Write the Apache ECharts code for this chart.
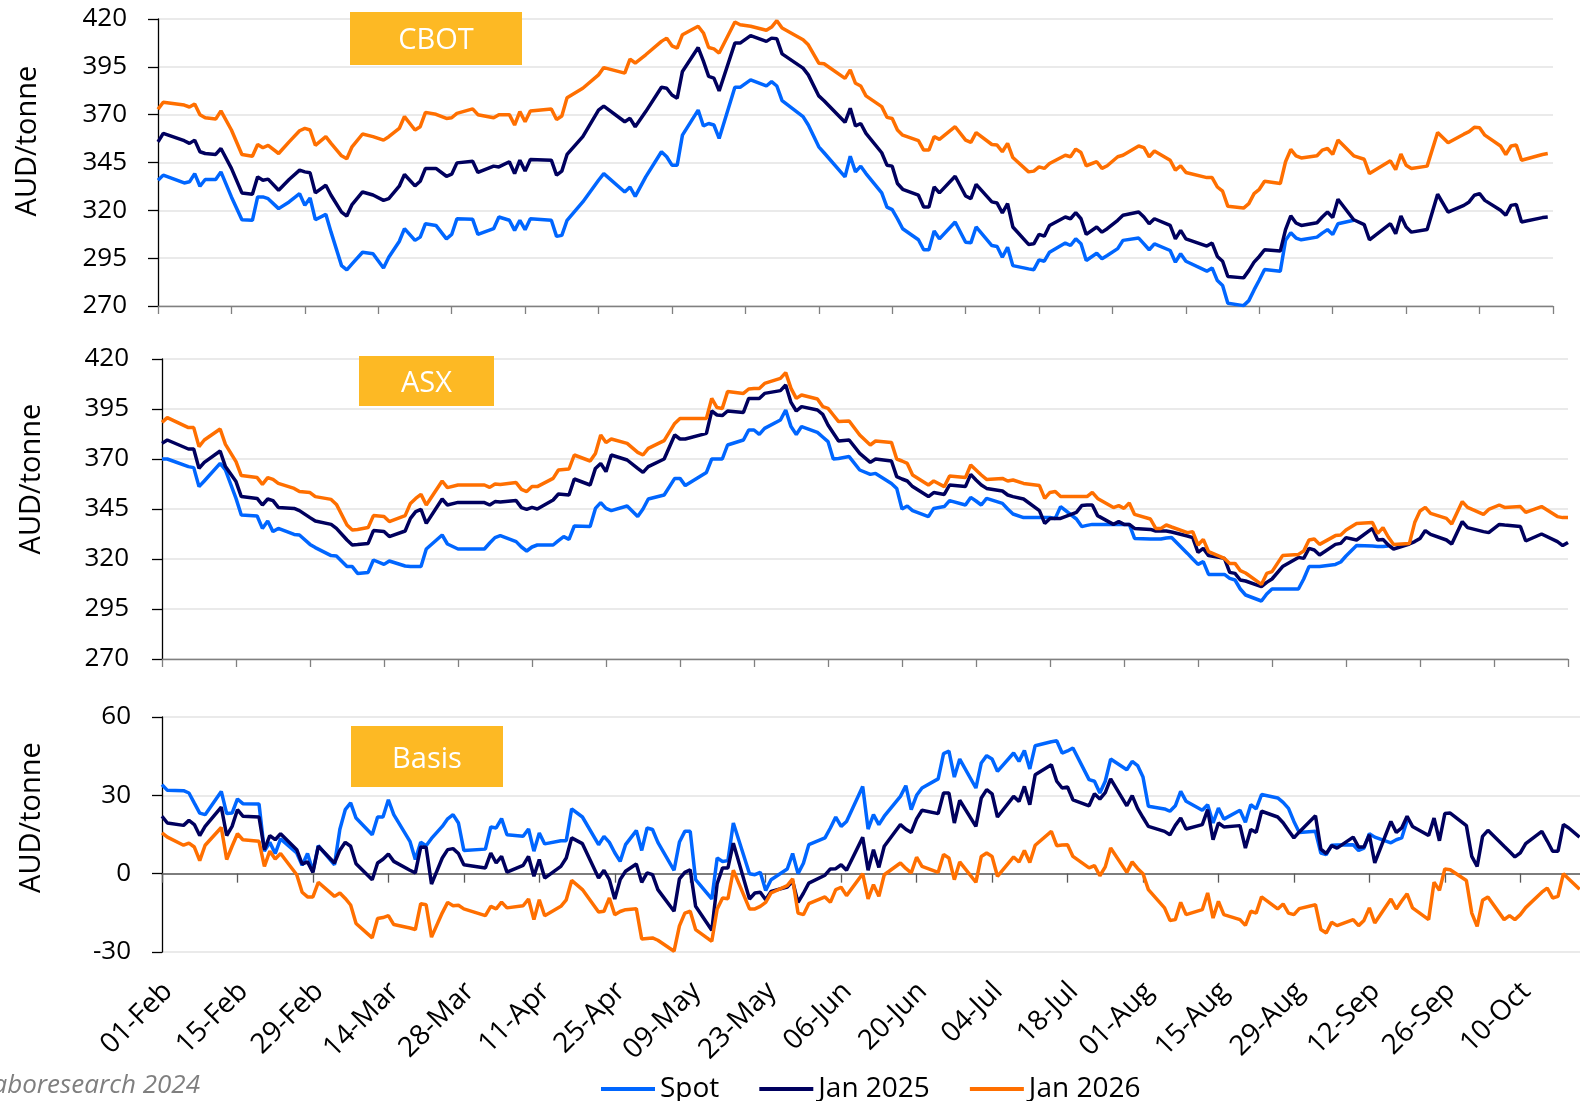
<!DOCTYPE html>
<html>
<head>
<meta charset="utf-8">
<script src="https://cdn.jsdelivr.net/npm/echarts@6/dist/echarts.min.js"></script>
<style>
html,body{margin:0;padding:0;background:#fff;}
#chart{width:1580px;height:1101px;}
</style>
</head>
<body>
<div id="chart"></div>
<script>
// x tick labels (every 14 days from 01-Feb-2024)
const xTickLabels = ['01-Feb','15-Feb','29-Feb','14-Mar','28-Mar','11-Apr','25-Apr','09-May','23-May','06-Jun','20-Jun','04-Jul','18-Jul','01-Aug','15-Aug','29-Aug','12-Sep','26-Sep','10-Oct'];
const seriesNames = ['Spot','Jan 2025','Jan 2026'];

// ---------- CBOT (AUD/tonne); days = days since 01-Feb-2024 ----------
const cbotDays = [
0,1,5,6,7,8,9,11,12,14,
16,18,19,20,21,23,25,27,28,29,
30,32,33,35,36,37,39,41,43,44,
46,47,49,50,51,53,55,56,57,60,
61,64,65,67,68,69,70,71,75,76,
77,78,81,84,85,89,90,91,93,96,
97,98,99,100,103,104,105,106,107,110,
111,113,116,117,118,119,123,124,126,127,
131,132,133,134,135,138,139,140,141,142,
145,146,147,148,149,152,154,155,156,159,
160,161,162,163,166,167,168,169,170,173,
174,175,176,177,179,180,181,183,184,187,
188,189,190,193,194,195,196,200,201,202,
203,204,207,208,209,210,211,214,215,216,
217,218,221,222,223,224,225,228,230,231,
235,236,237,238,239,242,244,246,249,250,
251,252,253,256,257,258,259,260,264,265];
const cbotSpot = [
335.7,338.4,334.3,334.9,339.2,332.6,336.1,336.1,340.1,327.0,
315.1,314.8,327.0,327.0,326.1,320.9,324.4,328.7,322.6,326.5,
315.1,317.9,308.6,291.1,288.9,292.0,298.1,297.3,289.9,295.5,
303.7,310.4,304.3,306.0,313.0,312.1,305.1,307.4,315.6,315.3,
307.4,310.4,316.5,314.8,309.5,314.8,309.9,315.6,314.8,306.4,
306.9,314.8,324.4,335.7,339.2,329.6,332.2,327.3,337.5,350.6,
348.0,343.6,343.6,359.3,372.4,364.1,365.4,364.6,357.6,384.3,
384.3,388.2,385.0,387.3,385.0,377.3,369.0,364.6,353.2,350.1,
337.5,348.3,340.1,343.1,339.2,329.1,321.7,320.4,315.6,310.4,
304.6,299.4,299.4,309.2,305.1,313.9,303.3,303.0,311.3,301.6,
301.1,295.5,300.7,291.1,289.4,289.0,294.1,293.4,298.1,302.9,
301.6,305.1,302.5,293.8,297.6,294.7,296.4,300.0,304.3,305.5,
302.5,299.4,302.5,299.0,292.9,297.3,293.4,288.2,289.9,283.3,
280.7,271.4,270.2,272.8,278.4,283.6,289.1,288.2,304.3,308.3,
305.5,304.6,306.0,308.1,309.9,307.4,313.0,314.8,null,null,
null,null,null,null,null,null,null,null,null,null,
null,null,null,null,null,null,null,null,null,null];
const cbotJan25 = [
355.8,360.2,356.4,355.0,356.7,350.6,349.7,349.2,352.3,341.9,
329.1,328.4,337.5,335.7,336.3,330.5,336.1,341.0,340.1,339.6,
329.1,333.1,327.9,319.1,317.0,323.0,329.6,328.0,325.2,326.1,
332.6,338.7,332.8,335.2,341.9,341.9,337.8,338.9,344.8,345.7,
339.8,343.1,342.7,345.4,339.2,346.2,340.5,346.6,346.2,338.4,
340.5,349.2,358.5,372.4,374.5,366.3,368.1,363.7,371.6,384.3,
383.8,380.3,378.6,392.6,405.1,398.0,390.0,389.1,382.4,407.4,
407.4,411.3,408.3,410.0,409.7,401.8,394.3,390.8,379.8,377.3,
366.0,373.3,364.1,365.4,360.2,350.1,343.6,343.1,334.0,331.0,
327.9,321.7,321.7,332.2,329.1,337.8,327.5,326.1,333.6,324.4,
323.8,318.6,323.5,311.3,302.2,302.5,307.4,306.5,312.1,316.5,
315.6,318.8,315.6,307.4,311.3,308.6,310.4,314.8,317.4,319.1,
316.5,313.0,315.6,312.1,305.1,309.5,305.1,301.3,302.9,295.9,
293.4,285.4,284.7,288.5,292.9,295.9,299.4,298.7,309.9,317.1,
313.4,312.1,313.5,316.5,319.1,316.2,325.8,315.1,312.5,304.6,
313.0,307.8,317.1,311.3,308.6,310.0,328.4,319.1,322.6,324.4,
327.9,328.7,325.2,320.0,317.4,322.6,323.1,313.9,316.2,316.5];
const cbotJan26 = [
372.8,376.5,375.0,374.0,375.6,370.0,368.4,367.7,372.0,362.0,
349.2,348.3,354.4,352.7,353.9,349.7,355.8,361.6,362.8,362.0,
354.0,358.5,355.0,348.5,347.0,353.2,359.9,358.5,356.7,358.5,
362.8,369.0,362.0,363.7,371.2,370.2,368.0,368.4,370.7,373.0,
370.0,368.4,370.0,370.0,364.6,371.6,366.3,371.9,373.0,367.5,
369.3,378.9,383.8,390.8,394.6,391.7,399.0,397.0,401.3,408.3,
410.0,406.0,404.8,411.8,416.2,412.7,405.1,404.4,402.2,418.4,
417.0,416.2,414.1,415.8,419.1,415.3,409.2,406.5,396.9,396.6,
389.0,393.4,386.4,385.0,379.8,374.2,368.6,368.0,362.0,359.3,
356.4,351.5,351.5,358.5,357.1,363.7,356.7,355.5,360.6,354.4,
354.1,350.6,355.0,347.6,340.1,340.5,342.7,341.9,344.5,348.8,
348.0,352.0,350.2,343.3,345.4,341.9,343.3,348.0,348.8,353.6,
352.8,348.0,351.0,346.2,341.0,343.3,339.8,337.1,337.1,332.2,
330.0,322.1,321.2,323.5,328.7,331.0,335.2,334.0,345.4,351.8,
348.5,347.4,348.5,351.5,352.3,349.2,356.7,348.5,346.7,339.2,
345.9,341.3,349.4,343.6,341.9,343.1,360.7,355.3,359.8,361.1,
363.4,363.2,359.3,353.6,349.2,353.6,354.1,346.2,349.2,349.7];

// ---------- ASX (AUD/tonne) ----------
const asxDays = [
0,1,5,6,7,8,11,12,14,15,
18,19,20,21,22,25,26,28,29,32,
33,35,36,37,39,40,42,43,46,47,
48,49,50,53,54,56,61,62,63,64,
67,68,69,70,71,74,75,76,77,78,
81,82,83,84,85,88,90,91,92,95,
97,98,99,103,104,105,106,107,110,111,
112,113,114,117,118,119,120,121,124,125,
126,127,128,130,132,134,135,138,139,140,
141,142,145,146,148,149,152,153,154,155,
156,159,160,161,163,166,167,168,169,170,
173,174,175,176,177,180,181,182,183,184,
187,188,189,190,191,194,195,196,197,198,
201,202,203,204,205,208,209,210,212,215,
216,217,218,219,222,223,224,226,229,230,
231,232,233,236,237,238,239,240,243,244,
246,247,250,251,253,254,257,258,261,264,
265,266];
const asxSpot = [
370.0,370.0,366.2,365.7,356.2,359.0,367.8,364.5,350.3,342.0,
341.5,335.3,339.0,333.7,335.3,332.3,332.0,327.3,325.7,321.7,
321.5,316.2,316.2,312.8,313.3,319.5,317.3,319.0,316.5,316.2,
316.2,316.2,325.0,332.0,327.5,325.0,325.0,328.0,330.7,331.7,
328.7,326.0,324.0,326.0,327.0,327.0,329.2,331.2,329.8,336.5,
336.2,345.3,348.2,345.3,344.2,346.5,341.2,345.0,350.0,352.0,
360.3,360.3,356.7,363.3,370.0,370.0,370.0,377.0,379.5,384.5,
384.5,382.3,385.3,389.5,394.5,386.2,382.3,386.2,383.3,381.0,
378.7,370.0,370.3,371.2,364.5,362.3,362.8,357.8,355.3,345.0,
346.5,344.2,341.2,345.3,346.2,349.2,347.0,350.8,349.0,347.0,
350.3,347.8,345.0,342.5,340.7,340.7,340.7,340.7,340.3,346.2,
340.0,336.2,336.8,337.3,337.3,337.3,337.3,337.3,337.3,330.3,
330.0,330.0,330.0,330.5,330.8,322.8,320.0,317.3,318.7,312.3,
312.3,310.3,309.5,305.0,302.0,299.0,302.5,305.0,305.0,305.0,
310.0,316.2,316.2,316.2,317.3,318.5,321.5,326.7,326.5,326.3,
326.2,326.5,null,null,null,null,null,null,null,null,
null,null,null,null,null,null,null,null,null,null,
null,null];
const asxJan25 = [
377.8,379.5,375.0,375.0,365.3,368.3,374.0,366.2,358.7,351.2,
350.3,347.0,350.0,349.2,345.8,345.3,344.2,340.7,339.0,337.3,
335.3,329.5,327.0,327.2,327.8,334.2,333.7,331.2,334.0,340.3,
343.7,344.8,337.8,350.0,347.0,348.3,348.2,347.0,348.7,348.5,
349.2,345.7,344.8,345.8,345.0,349.5,352.5,352.3,352.0,360.0,
357.0,365.3,367.8,363.7,372.0,369.5,365.3,363.3,366.2,370.0,
382.0,380.0,380.0,382.8,394.0,392.0,391.7,394.0,393.3,400.3,
400.3,400.3,402.8,404.2,407.0,398.3,394.0,396.2,394.5,392.3,
387.0,383.0,379.0,379.5,372.8,368.3,370.0,369.0,361.2,360.0,
359.0,356.2,351.2,353.2,352.3,357.0,356.2,362.3,359.5,357.0,
355.3,354.0,352.0,351.2,350.0,344.2,337.8,340.3,340.3,340.3,
343.3,346.7,347.0,347.0,341.7,337.3,338.7,337.3,337.3,335.3,
334.8,334.0,334.0,334.0,333.5,331.5,330.7,323.3,325.3,321.7,
320.3,313.3,312.8,309.5,309.0,306.2,308.3,310.0,316.2,320.8,
320.3,325.3,324.5,322.0,327.3,327.8,330.7,329.5,335.3,329.5,
329.8,327.0,325.0,327.5,328.7,330.3,334.2,332.3,329.5,327.5,
338.7,335.7,333.7,333.2,337.3,337.0,336.2,329.0,332.5,328.7,
326.7,328.3];
const asxJan26 = [
388.3,390.7,385.7,385.7,376.2,379.5,385.0,377.3,368.7,361.7,
360.7,357.3,360.7,359.8,357.8,355.3,353.7,353.2,351.2,349.8,
347.3,337.0,334.5,334.8,335.7,341.7,341.2,338.7,341.7,347.8,
350.3,352.3,347.0,359.0,355.7,357.0,357.0,355.8,357.5,357.2,
358.2,354.8,353.7,356.2,356.2,360.3,364.5,364.8,365.0,372.0,
369.0,372.8,382.0,378.2,380.0,377.8,373.3,372.0,375.3,379.2,
387.8,390.3,390.3,390.3,400.3,395.7,395.3,403.7,402.8,405.0,
405.2,405.3,407.8,410.3,413.2,405.3,400.3,402.0,400.0,396.2,
395.3,392.0,388.7,389.0,382.0,377.0,379.0,378.3,370.0,369.0,
367.8,362.0,357.0,359.0,356.2,361.5,360.7,367.0,364.5,362.0,
359.8,360.3,359.0,359.5,357.8,356.7,350.3,353.3,353.7,351.2,
351.2,351.2,351.2,353.3,350.3,345.7,346.7,345.3,348.0,342.3,
340.0,335.3,335.3,337.0,336.0,333.2,333.7,327.0,329.8,323.7,
320.3,317.8,317.8,314.2,313.0,307.3,312.8,313.7,321.7,322.3,
324.0,329.5,330.0,327.3,331.7,332.0,334.5,337.8,338.3,332.8,
335.7,331.0,327.3,327.8,338.2,344.0,345.8,342.8,340.3,337.5,
348.7,345.8,342.3,344.8,347.0,345.8,346.2,343.3,346.2,341.2,
340.7,340.7];

// ---------- Basis (ASX minus CBOT, AUD/tonne) ----------
const basisDays = [
0,1,4,5,6,7,8,11,12,13,
14,15,18,19,20,21,22,25,26,27,
28,29,32,33,34,35,36,39,40,41,
42,43,46,47,48,49,50,52,53,54,
55,56,60,61,62,63,64,67,68,69,
70,71,74,75,76,78,81,82,83,84,
85,86,88,89,90,91,92,95,96,97,
98,99,102,103,104,105,106,109,110,111,
112,113,116,117,118,119,120,123,124,125,
126,127,130,131,132,133,134,137,138,139,
140,141,144,145,146,147,148,151,152,153,
154,155,158,159,160,161,162,165,166,167,
168,169,172,173,174,175,176,179,180,181,
182,183,186,187,188,189,190,193,194,195,
196,197,200,201,202,203,204,207,208,209,
210,211,214,215,216,217,218,221,222,223,
224,225,228,229,230,231,232,235,236,237,
238,239,242,243,244,245,246,249,250,251,
252,253,256,257,258,259,260,261,263];
const basisSpot = [
34.1,31.9,31.8,30.9,27.0,23.2,22.6,31.5,23.0,23.2,
28.6,26.8,26.7,8.6,12.0,7.7,13.3,7.9,3.2,7.7,
0.9,10.7,3.4,17.0,24.5,27.1,21.3,14.9,21.7,21.7,
28.3,22.6,12.4,5.4,12.0,10.7,13.5,18.1,21.0,22.6,
19.4,8.9,9.4,17.9,17.5,21.1,14.9,14.3,17.1,8.6,
15.6,11.4,12.6,12.6,24.8,21.7,11.1,14.3,12.0,8.0,
4.7,11.1,16.5,8.9,17.5,16.9,12.0,1.3,12.1,16.2,
16.2,-2.3,-9.7,6.0,4.7,5.0,19.4,0.0,-0.4,0.5,
-6.4,-2.3,1.8,7.7,0.0,4.0,11.1,13.7,17.5,21.7,
18.1,20.0,33.4,17.1,22.6,18.8,22.0,29.6,33.7,24.5,
30.0,32.8,36.3,46.0,46.9,37.0,43.9,32.8,42.4,45.2,
43.9,39.2,46.2,43.0,47.2,40.1,49.0,50.5,50.9,46.2,
47.0,48.1,36.0,35.4,30.9,35.4,43.9,39.8,43.0,41.4,
37.0,25.8,24.8,23.9,26.0,31.5,27.7,24.3,26.4,19.4,
25.1,20.9,24.3,19.7,26.4,24.8,30.3,29.0,27.3,25.0,
20.0,15.8,16.2,7.9,7.3,10.9,11.0,11.1,8.9,9.8,
15.3,14.0,11.8,13.0,13.7,20.4,null,null,null,null,
null,null,null,null,null,null,null,null,null,null,
null,null,null,null,null,null,null,null,null];
const basisJan25 = [
22.0,19.4,18.5,20.4,18.8,14.6,18.1,25.5,14.6,18.1,
24.5,22.0,21.7,9.2,14.6,13.0,15.3,9.2,3.7,4.5,
0.5,10.5,4.1,9.0,12.0,10.5,3.8,-2.3,4.1,5.5,
7.5,4.7,1.3,0.3,10.2,10.1,-4.0,6.0,9.2,9.6,
7.7,3.4,2.2,7.9,4.1,6.6,0.6,3.2,6.6,-1.0,
5.4,-1.7,2.8,6.0,13.7,11.5,-1.7,1.3,-2.3,-9.7,
-2.3,0.9,3.7,-3.3,0.3,-0.4,-6.1,-14.4,-2.0,0.5,
1.5,-12.5,-21.7,-3.8,2.2,2.2,11.7,-9.7,-7.4,-7.1,
-10.0,-6.8,-5.1,-2.9,-11.0,-7.5,-3.6,-0.6,1.8,1.9,
3.4,1.3,13.9,1.3,9.2,2.4,10.5,18.8,17.0,15.8,
21.0,24.3,23.0,30.9,30.9,19.4,28.1,18.1,29.0,32.2,
30.6,21.7,29.6,27.7,33.4,26.4,37.9,41.7,35.4,32.8,
33.2,28.3,26.0,30.6,28.6,31.0,36.3,26.0,29.9,25.0,
21.5,18.1,16.2,14.9,18.5,21.3,17.1,18.8,24.5,13.0,
19.4,17.9,18.4,9.8,16.9,15.8,23.9,21.7,19.5,16.5,
13.7,16.0,22.2,9.4,7.7,10.7,9.8,14.0,10.2,10.2,
14.9,4.1,20.0,15.8,17.5,22.0,18.1,14.6,21.3,12.6,
23.0,23.2,18.4,6.6,2.8,14.3,16.6,10.5,8.5,6.4,
8.0,11.5,16.2,12.5,8.6,8.6,18.8,17.5,14.0];
const basisJan26 = [
15.6,14.0,10.9,11.7,10.2,5.0,10.9,17.7,5.4,10.5,
15.3,13.0,12.4,2.8,8.6,5.6,7.7,-0.4,-7.1,-8.9,
-8.9,-3.3,-8.7,-7.4,-9.5,-12.0,-19.1,-24.6,-17.2,-16.8,
-16.1,-19.5,-20.8,-21.4,-11.5,-11.9,-24.3,-15.0,-11.0,-12.3,
-12.1,-13.5,-16.1,-12.5,-13.5,-10.9,-13.1,-12.3,-9.7,-17.6,
-10.0,-16.1,-12.5,-10.0,-2.6,-6.1,-14.7,-14.4,-9.3,-15.7,
-14.5,-13.8,-13.4,-25.0,-24.8,-24.6,-25.5,-29.7,-20.0,-15.1,
-14.4,-21.4,-25.9,-13.5,-9.3,-9.6,1.3,-13.5,-13.5,-12.5,
-11.0,-7.4,-4.6,-2.0,-15.1,-15.7,-11.5,-8.9,-11.0,-6.1,
-5.2,-8.4,0.0,-9.7,-4.2,-8.7,-0.4,4.1,2.0,0.3,
6.3,2.8,0.5,7.3,6.0,-2.3,4.5,-3.3,6.6,7.9,
6.6,-1.0,6.4,4.5,8.9,4.3,10.9,16.2,10.7,11.0,
11.1,6.6,2.2,3.1,-0.8,2.6,9.8,0.5,4.5,2.0,
0.0,-6.1,-13.1,-17.9,-17.6,-11.0,-15.7,-13.8,-7.4,-17.0,
-10.6,-15.7,-17.6,-19.8,-14.4,-15.1,-8.9,-13.5,-11.6,-15.1,
-15.7,-13.4,-11.9,-21.4,-22.7,-18.6,-19.9,-17.6,-19.9,-17.9,
-13.1,-18.9,-9.7,-13.5,-10.5,-7.7,-13.1,-17.6,-3.3,-6.4,
1.8,1.5,-2.6,-15.1,-20.2,-10.2,-8.9,-17.6,-16.1,-17.6,
-15.7,-13.0,-7.1,-5.5,-9.3,-8.7,0.0,-2.0,-6.0];

// ---------- rendering ----------
const FONT = 'Open Sans';
const COLORS = ['#0066FF', '#00005E', '#FF6F00'];
const DAY_MAX = 266, DAY_STEP = 14;
const tickDays = xTickLabels.map((_, i) => i * DAY_STEP);
const pairs = (days, vals) => days.map((d, i) => [d, vals[i]]);

const chart = echarts.init(document.getElementById('chart'), null, {renderer: 'canvas'});

function xAxisBase(gridIndex, extra) {
  return Object.assign({
    type: 'value', gridIndex: gridIndex, min: 0, max: DAY_MAX, interval: DAY_STEP,
    splitLine: {show: false},
    axisLabel: {show: false},
    axisLine: {show: true, onZero: false, lineStyle: {color: '#808080', width: 1.3}},
    axisTick: {show: true, length: 8, lineStyle: {color: '#808080', width: 1.3}}
  }, extra || {});
}
function yAxisBase(gridIndex, min, max, interval, margin, namePad) {
  return {
    type: 'value', gridIndex: gridIndex, min: min, max: max, interval: interval,
    name: 'AUD/tonne', nameLocation: 'middle', nameGap: 116,
    nameTextStyle: {fontSize: 29, color: '#000', fontFamily: FONT, padding: [0, 0, 0, namePad]},
    axisLine: {show: true, lineStyle: {color: '#000', width: 1.3}},
    axisTick: {show: true, length: 10, lineStyle: {color: '#000', width: 1.3}},
    axisLabel: {fontSize: 26, color: '#000', fontFamily: FONT, margin: margin},
    splitLine: {show: true, lineStyle: {color: '#E3E3E3', width: 1.5}}
  };
}
function lineSeries(name, xi, days, vals, color) {
  return {
    name: name, type: 'line', xAxisIndex: xi, yAxisIndex: xi,
    data: pairs(days, vals), showSymbol: false, symbol: 'none',
    connectNulls: false, animation: false,
    lineStyle: {width: 3.5, color: color}, itemStyle: {color: color}
  };
}

// The basis panel is wider than the picture: it is cut at the right edge.
const BASIS_PX_PER_DAY = 5.39;
const BASIS_LEFT = 162, LBL_DX = 6;
const basisVisibleMax = (1580 - BASIS_LEFT) / BASIS_PX_PER_DAY;
const labelVisibleMax = (1580 - BASIS_LEFT - LBL_DX) / BASIS_PX_PER_DAY;

const option = {
  animation: false,
  backgroundColor: '#fff',
  textStyle: {fontFamily: FONT},
  grid: [
    {left: 158, right: 27, top: 19, height: 287},
    {left: 162, right: 12, top: 359, height: 300},
    {left: BASIS_LEFT, right: 0, top: 717, height: 235},
    {left: BASIS_LEFT + LBL_DX, right: 0, top: 717, height: 235}
  ],
  xAxis: [
    xAxisBase(0),
    xAxisBase(1),
    xAxisBase(2, {max: basisVisibleMax,
                  axisLine: {show: true, onZero: true, lineStyle: {color: '#595959', width: 1.5}},
                  axisTick: {show: true, length: 9, customValues: tickDays, lineStyle: {color: '#595959', width: 1.3}}}),
    xAxisBase(3, {max: labelVisibleMax, axisLine: {show: false}, axisTick: {show: false},
                  axisLabel: {show: true, rotate: 45, fontSize: 28, color: '#000', fontFamily: FONT, margin: 35,
                              customValues: tickDays,
                              formatter: v => xTickLabels[Math.round(v / DAY_STEP)] || ''}})
  ],
  yAxis: [
    yAxisBase(0, 270, 420, 25, 31, 43),
    yAxisBase(1, 270, 420, 25, 33, 60),
    yAxisBase(2, -30, 60, 30, 31, 34),
    {type: 'value', gridIndex: 3, min: -30, max: 60, show: false}
  ],
  legend: {
    data: seriesNames, left: 596, top: 1070, icon: 'rect', itemWidth: 54, itemHeight: 4, itemGap: 40,
    textStyle: {fontSize: 28, color: '#000', fontFamily: FONT}
  },
  series: [
    lineSeries(seriesNames[0], 0, cbotDays, cbotSpot, COLORS[0]),
    lineSeries(seriesNames[1], 0, cbotDays, cbotJan25, COLORS[1]),
    lineSeries(seriesNames[2], 0, cbotDays, cbotJan26, COLORS[2]),
    lineSeries(seriesNames[0], 1, asxDays, asxSpot, COLORS[0]),
    lineSeries(seriesNames[1], 1, asxDays, asxJan25, COLORS[1]),
    lineSeries(seriesNames[2], 1, asxDays, asxJan26, COLORS[2]),
    lineSeries(seriesNames[0], 2, basisDays, basisSpot, COLORS[0]),
    lineSeries(seriesNames[1], 2, basisDays, basisJan25, COLORS[1]),
    lineSeries(seriesNames[2], 2, basisDays, basisJan26, COLORS[2])
  ],
  graphic: [
    {type: 'rect', shape: {x: 350, y: 12, width: 172, height: 53}, style: {fill: '#FDB924'}, z: 10},
    {type: 'text', x: 436, y: 41, z: 11, style: {text: 'CBOT', fill: '#fff', fontSize: 29, fontFamily: FONT,
      align: 'center', verticalAlign: 'middle', textAlign: 'center', textVerticalAlign: 'middle'}},
    {type: 'rect', shape: {x: 359, y: 356, width: 135, height: 50}, style: {fill: '#FDB924'}, z: 10},
    {type: 'text', x: 426.5, y: 384, z: 11, style: {text: 'ASX', fill: '#fff', fontSize: 29, fontFamily: FONT,
      align: 'center', verticalAlign: 'middle', textAlign: 'center', textVerticalAlign: 'middle'}},
    {type: 'rect', shape: {x: 351, y: 726, width: 152, height: 61}, style: {fill: '#FDB924'}, z: 10},
    {type: 'text', x: 427, y: 760, z: 11, style: {text: 'Basis', fill: '#fff', fontSize: 29, fontFamily: FONT,
      align: 'center', verticalAlign: 'middle', textAlign: 'center', textVerticalAlign: 'middle'}},
    {type: 'text', x: 200, y: 1086, z: 11, style: {text: 'Raboresearch 2024', fill: '#7F7F7F', fontSize: 26,
      fontStyle: 'italic', fontFamily: FONT, align: 'right', verticalAlign: 'middle', textAlign: 'right', textVerticalAlign: 'middle'}}
  ]
};
chart.setOption(option);
</script>
</body>
</html>
